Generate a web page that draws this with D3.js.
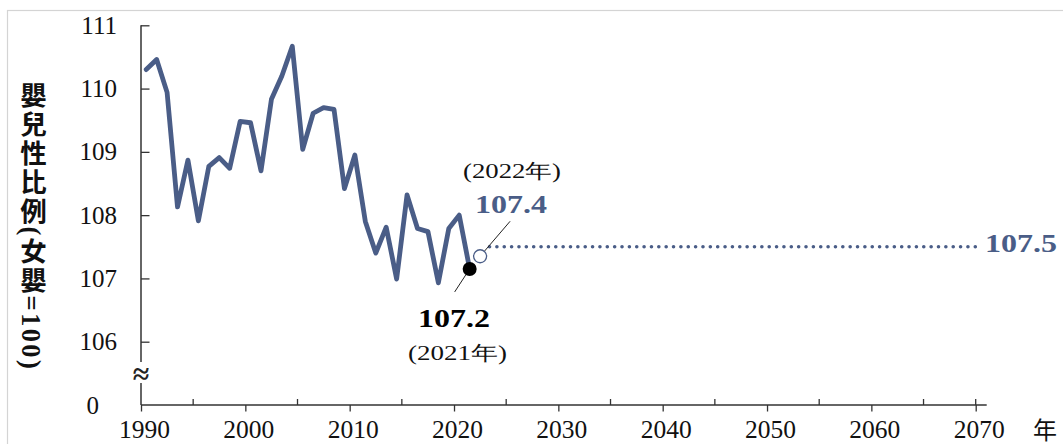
<!DOCTYPE html>
<html><head><meta charset="utf-8">
<script src="https://cdn.jsdelivr.net/npm/d3@7"></script>
<style>body{margin:0;background:#fff} svg{display:block}</style>
</head><body><svg id="c" width="1063" height="444"></svg>
<script>
// ---- data ----
const years = [1990,1991,1992,1993,1994,1995,1996,1997,1998,1999,2000,2001,2002,2003,2004,2005,2006,2007,2008,2009,2010,2011,2012,2013,2014,2015,2016,2017,2018,2019,2020,2021];
const ratios = [110.3,110.46,109.94,108.13,108.87,107.91,108.77,108.91,108.74,109.48,109.46,108.7,109.83,110.2,110.67,109.04,109.61,109.7,109.67,108.42,108.95,107.9,107.4,107.81,106.99,108.32,107.79,107.74,106.93,107.79,108.0,107.15];
const projYears = [2023, 2070];
const projValues = [107.5, 107.5];
const yTicks = [106,107,108,109,110,111];
const xMajor = [1990,2000,2010,2020,2030,2040,2050,2060,2070];
const xMinor = [1995,2005,2015,2025,2035,2045,2055,2065,2070];
const actualYear = 2021, actualValue = 107.15, actualLabel = "107.2", actualSub = "(2021年)";
const projYear = 2022, projValue = 107.35, projLabel = "107.4", projSub = "(2022年)";
const projEndLabel = "107.5";
const yTitle = "嬰兒性比例(女嬰=100)";

// ---- style ----
const BLUE = "#4a5d87";
const SERIF = "'Liberation Serif','Times New Roman',serif";
const CJK = "'Noto Sans CJK TC','Noto Sans CJK SC',sans-serif";

const svg = d3.select("#c");
svg.append("rect").attr("x",7.5).attr("y",10.5).attr("width",1070).attr("height",450)
  .attr("fill","#fff").attr("stroke","#d4d4d4").attr("stroke-width",1.2);

const x = d3.scaleLinear().domain([1990,2070]).range([141,975.7]);
const y = d3.scaleLinear().domain([106,111]).range([341.7,25.3]);
const axisY = 405;
const xp = yr => x(yr + 0.5);

// y axis
const gy = svg.append("g").attr("transform","translate(141,0)");
gy.call(d3.axisLeft(y).tickValues(yTicks).tickSize(-8.5).tickPadding(24).tickFormat(d3.format("d")));
gy.select(".domain").remove();
gy.selectAll(".tick line").attr("stroke","#333").attr("stroke-width",1.3);
gy.selectAll(".tick text").attr("font-family",SERIF).attr("font-size",25).attr("fill","#111");
gy.append("line").attr("x1",0).attr("x2",0).attr("y1",y(111)).attr("y2",362).attr("stroke","#333").attr("stroke-width",1.5);
gy.append("line").attr("x1",0).attr("x2",0).attr("y1",383).attr("y2",axisY).attr("stroke","#333").attr("stroke-width",1.5);
gy.append("text").attr("x",0).attr("y",373).attr("text-anchor","middle").attr("dominant-baseline","central")
  .attr("font-family",SERIF).attr("font-weight","bold").attr("font-size",30).attr("fill","#222").text("≈");
svg.append("text").attr("x",99).attr("y",axisY).attr("text-anchor","end").attr("dominant-baseline","central")
  .attr("font-family",SERIF).attr("font-size",25).attr("fill","#111").text("0");

// x axis
const gx = svg.append("g").attr("transform",`translate(0,${axisY})`);
gx.call(d3.axisBottom(x).tickValues(xMajor).tickSize(6.5).tickPadding(8.5).tickFormat(d3.format("d")));
gx.select(".domain").remove();
gx.append("line").attr("x1",141).attr("x2",986.7).attr("y1",0).attr("y2",0).attr("stroke","#333").attr("stroke-width",1.5);
gx.selectAll(".tick line").attr("stroke","#333").attr("stroke-width",1.3);
gx.selectAll(".tick text").attr("font-family",SERIF).attr("font-size",25.5).attr("fill","#111").attr("dx",3);
gx.selectAll(".minor").data(xMinor).join("line").attr("class","minor")
  .attr("x1",d=>x(d)).attr("x2",d=>x(d)).attr("y1",0).attr("y2",-6).attr("stroke","#333").attr("stroke-width",1.3);
svg.append("text").attr("x",1045).attr("y",428).attr("text-anchor","middle").attr("dominant-baseline","central")
  .attr("font-family",CJK).attr("font-size",24).attr("fill","#111").text("年");

// y title (vertical writing)
svg.append("text").attr("x",31).attr("y",82)
  .style("writing-mode","vertical-rl").style("text-orientation","mixed")
  .attr("font-family",SERIF+","+CJK).attr("font-weight","bold").attr("font-size",26.5)
  .attr("letter-spacing",2.4).attr("fill","#111").text(yTitle);

// line
const line = d3.line().x((d,i)=>xp(years[i])).y(d=>y(d));
svg.append("path").datum(ratios).attr("d",line).attr("fill","none").attr("stroke",BLUE)
  .attr("stroke-width",4.8).attr("stroke-linejoin","round").attr("stroke-linecap","round");

// projection dotted
const pline = d3.line().x((d,i)=>xp(projYears[i])).y(d=>y(d));
svg.append("path").datum(projValues).attr("d",pline).attr("fill","none").attr("stroke",BLUE)
  .attr("stroke-width",3.6).attr("stroke-linecap","round").attr("stroke-dasharray","0.01 7.35").attr("transform","translate(-1,0)");

// leaders
const ax = xp(actualYear), ay = y(actualValue), px = xp(projYear), py = y(projValue);
svg.append("line").attr("x1",ax).attr("y1",ay).attr("x2",ax-15).attr("y2",ay+23).attr("stroke","#222").attr("stroke-width",1);
svg.append("line").attr("x1",px).attr("y1",py).attr("x2",px+30).attr("y2",py-35).attr("stroke","#222").attr("stroke-width",1);
svg.append("circle").attr("cx",px).attr("cy",py).attr("r",6.5).attr("fill","#fff").attr("stroke",BLUE).attr("stroke-width",1.3);
svg.append("circle").attr("cx",ax).attr("cy",ay).attr("r",7).attr("fill","#000");

// labels
function lab(t,xl,yb,len,opts){
  svg.append("text").attr("x",xl).attr("y",yb).attr("textLength",len).attr("lengthAdjust","spacingAndGlyphs")
    .attr("font-family",opts.font||SERIF).attr("font-weight",opts.bold?"bold":"normal")
    .attr("font-size",opts.size).attr("fill",opts.fill||"#111").text(t);
}
lab(projSub, 463, 178, 98, {size:20});
lab(projLabel, 475, 213, 72, {size:26, bold:true, fill:BLUE});
lab(actualLabel, 418, 327, 72, {size:26, bold:true, fill:"#000"});
lab(actualSub, 408, 360, 99, {size:20});
lab(projEndLabel, 985, 252, 72, {size:26, bold:true, fill:BLUE});
</script></body></html>
